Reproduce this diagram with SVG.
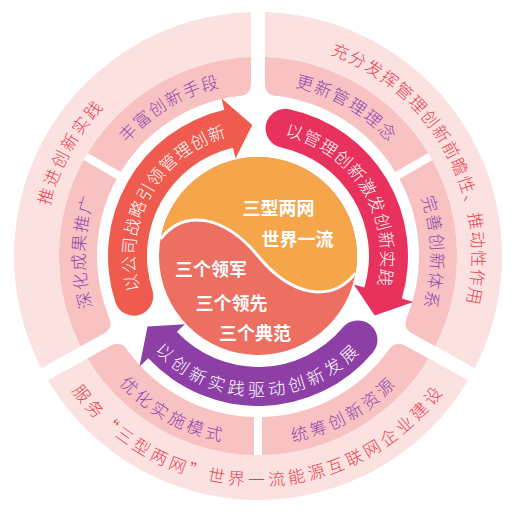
<svg xmlns="http://www.w3.org/2000/svg" width="514" height="515" viewBox="0 0 514 515">
<style>
.ob{fill:#fce1e1}
.ib{fill:#f8c2c2}
text{font-family:"Noto Sans CJK SC","Noto Sans",sans-serif;dominant-baseline:central}
.ot{font-size:17px;fill:#e8434f;letter-spacing:3px;font-weight:300}
.ot2{letter-spacing:2px}
.it{font-size:17px;fill:#9145ad;letter-spacing:2.5px;font-weight:300}
.at{font-size:17px;fill:#ffffff;letter-spacing:2px;font-weight:300}
.ct{font-size:18px;font-weight:700;fill:#ffffff;text-anchor:middle}
</style>
<defs>
<path id="p1" d="M67.71,370.34 A222,222 0 0 1 254.13,34.03"/>
<path id="p2" d="M206.17,40.13 A222,222 0 0 1 410.81,417.03"/>
<path id="p3" d="M36.85,275.35 A222,222 0 0 0 479.15,275.35"/>
<path id="p4" d="M77.01,258.21 A181,181 0 0 1 346.58,98.16"/>
<path id="p5" d="M170.25,97.69 A181,181 0 0 1 438.97,259.16"/>
<path id="p6" d="M163.43,410.33 A181,181 0 0 1 171.63,96.93"/>
<path id="p7" d="M345.75,97.69 A181,181 0 0 1 351.22,411.15"/>
<path id="p8" d="M77.03,259.16 A181,181 0 0 0 351.22,411.15"/>
<path id="p9" d="M164.78,411.15 A181,181 0 0 0 438.97,259.16"/>
<path id="p10" d="M173.79,356.35 A131,131 0 0 1 302.80,132.90"/>
<path id="p11" d="M209.99,134.11 A131,131 0 0 1 344.80,354.11"/>
<path id="p12" d="M128.0,278.92 A132,132 0 0 0 388.0,278.92"/>
</defs>
<rect width="514" height="515" fill="#ffffff"/>

<g id="outer-top-left">
<path class="ob" d="M251,12.1 A244,244 0 0 0 41.29,368.13 L80.67,346.30 A199,199 0 0 1 251,57.12 Z"/>
<text class="ot" text-anchor="middle"><textPath href="#p1" startOffset="50%">推进创新实践</textPath></text>
</g>
<g id="outer-top-right">
<path class="ob" d="M265,12.1 A244,244 0 0 1 474.71,368.13 L435.33,346.30 A199,199 0 0 0 265,57.12 Z"/>
<text class="ot ot2" text-anchor="middle"><textPath href="#p2" startOffset="50%">充分发挥管理创新前瞻性、推动性作用</textPath></text>
</g>
<g id="outer-bottom">
<path class="ob" d="M48.08,380.37 A244,244 0 0 0 467.92,380.37 L428.56,358.53 A199,199 0 0 1 87.44,358.53 Z"/>
<text class="ot" text-anchor="middle"><textPath href="#p3" startOffset="50%">服务“三型两网”世界一流能源互联网企业建设</textPath></text>
</g>

<g id="inner-1">
<path class="ib" d="M251,57.12 A199,199 0 0 0 87.69,153.07 L120.61,172.07 A161,161 0 0 1 239.05,96.12 Q251,95.15 251,83.15 Z"/>
<text class="it" text-anchor="middle"><textPath href="#p4" startOffset="50%">丰富创新手段</textPath></text>
</g>
<g id="inner-2">
<path class="ib" d="M265,57.12 A199,199 0 0 1 428.31,153.07 L395.39,172.07 A161,161 0 0 0 276.95,96.12 Q265,95.15 265,83.15 Z"/>
<text class="it" text-anchor="middle"><textPath href="#p5" startOffset="50%">更新管理理念</textPath></text>
</g>
<g id="inner-3">
<path class="ib" d="M83.69,159.99 A199,199 0 0 0 80.67,346.30 L103.43,333.68 Q113.93,327.86 108.98,316.94 A161,161 0 0 1 116.61,178.99 Z"/>
<text class="it" text-anchor="middle"><textPath href="#p6" startOffset="50%">深化成果推广</textPath></text>
</g>
<g id="inner-4">
<path class="ib" d="M432.31,159.99 A199,199 0 0 1 435.33,346.30 L412.57,333.68 Q402.07,327.86 407.02,316.94 A161,161 0 0 0 399.39,178.99 Z"/>
<text class="it" text-anchor="middle"><textPath href="#p7" startOffset="50%">完善创新体系</textPath></text>
</g>
<g id="inner-5">
<path class="ib" d="M87.44,358.53 A199,199 0 0 0 254,454.96 L254,416.95 A161,161 0 0 1 127.36,350.09 Q120.71,340.10 110.21,345.92 Z"/>
<text class="it" text-anchor="middle"><textPath href="#p8" startOffset="50%">优化实施模式</textPath></text>
</g>
<g id="inner-6">
<path class="ib" d="M428.56,358.53 A199,199 0 0 1 262,454.96 L262,416.95 A161,161 0 0 0 388.64,350.09 Q395.29,340.10 405.79,345.92 Z"/>
<text class="it" text-anchor="middle"><textPath href="#p9" startOffset="50%">统筹创新资源</textPath></text>
</g>

<g id="connectors">
<g id="arrow-strategy">
<path fill="#ef5b4e" d="M115.34,302.35 A150,150 0 0 1 224.26,109.84 L221.56,98.15 L252.29,125.12 L235.50,158.56 L233.03,147.84 A111,111 0 0 0 152.43,290.30 A19.5,19.5 0 0 1 115.34,302.35 Z"/>
<text class="at" text-anchor="middle"><textPath href="#p10" startOffset="50%">以公司战略引领管理创新</textPath></text>
</g>
<g id="arrow-management">
<path fill="#e8315c" d="M289.19,109.28 A150,150 0 0 1 401.82,298.60 L413.33,302.01 L374.72,315.47 L353.88,284.40 L364.43,287.53 A111,111 0 0 0 281.08,147.43 A19.5,19.5 0 0 1 289.19,109.28 Z"/>
<text class="at" text-anchor="middle"><textPath href="#p11" startOffset="50%">以管理创新激发创新实践</textPath></text>
</g>
<g id="arrow-practice">
<path fill="#8d3fa6" d="M372.91,352.42 A150,150 0 0 1 148.30,358.30 L139.52,366.48 L147.52,326.39 L184.86,324.20 L176.82,331.70 A111,111 0 0 0 343.03,327.35 A19.5,19.5 0 0 1 372.91,352.42 Z"/>
<text class="at" text-anchor="middle" style="letter-spacing:3px"><textPath href="#p12" startOffset="50%">以创新实践驱动创新发展</textPath></text>
</g>
</g>

<g id="center">
<circle cx="258" cy="256" r="99" fill="#ec6f62"/>
<path fill="#f5a54a" d="M160.5,238.81 C185,208 225,216 258,256 C291,296 331,304 355.5,273.19 A99,99 0 0 0 160.5,238.81 Z"/>
<path fill="none" stroke="#ffffff" stroke-width="3" d="M160.5,238.81 C185,208 225,216 258,256 C291,296 331,304 355.5,273.19"/>
<text class="ct" x="278.5" y="207">三型两网</text>
<text class="ct" x="297.5" y="238">世界一流</text>
<text class="ct" x="211" y="268">三个领军</text>
<text class="ct" x="231.5" y="302">三个领先</text>
<text class="ct" x="255" y="332">三个典范</text>
</g>
</svg>
